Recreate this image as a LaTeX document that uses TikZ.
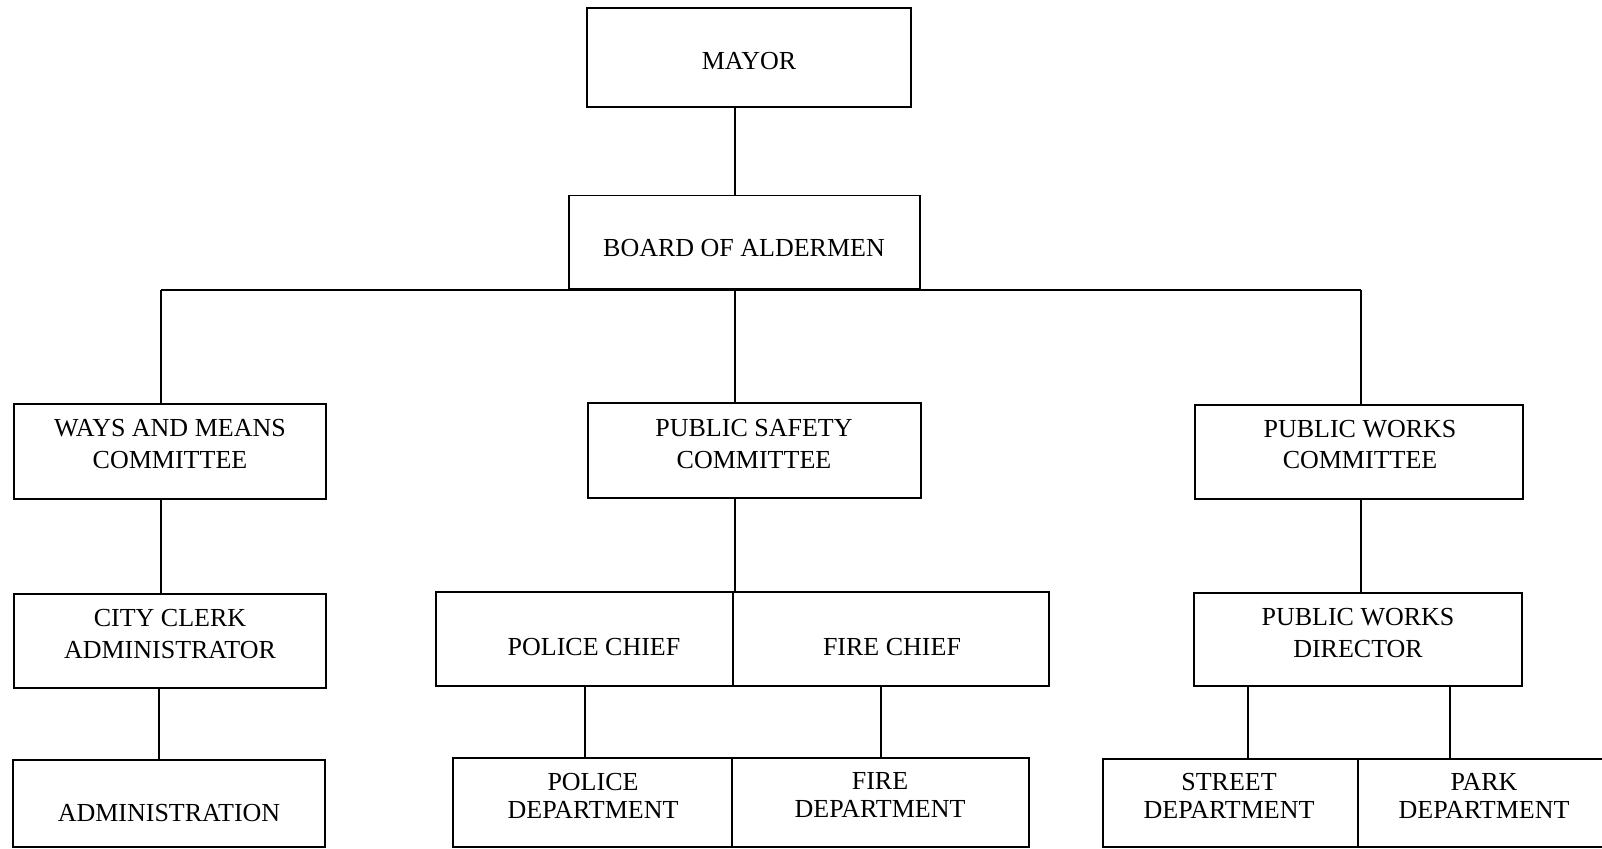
\documentclass[tikz,border=0pt]{standalone}
\usepackage{fontspec}
\setmainfont{Liberation Serif}
\begin{document}
\begin{tikzpicture}[x=1pt,y=-1pt,
  box/.style={draw=black,line width=1.9pt,rectangle,inner sep=0pt},
  nobox/.style={rectangle,inner sep=0pt},
  lbl/.style={inner sep=0pt,align=center,font=\fontsize{26}{31.5}\selectfont},
  lblb/.style={inner sep=0pt,align=center,font=\fontsize{26}{28}\selectfont},
  conn/.style={draw=black,line width=1.3pt}]
\useasboundingbox[fill=white] (0,0) rectangle (1602,848);
% boxes
\node[box,minimum width=324pt,minimum height=99pt] (mayor) at (749,57.5) {};
\node[box,minimum width=351pt,minimum height=93pt] (board) at (744.5,242) {};
\node[box,minimum width=312pt,minimum height=95pt] (ways) at (170,451.5) {};
\node[box,minimum width=333pt,minimum height=95pt] (safety) at (754.5,450.5) {};
\node[box,minimum width=328pt,minimum height=94pt] (pwc) at (1359,452) {};
\node[box,minimum width=312pt,minimum height=94pt] (clerk) at (170,641) {};
\node[box,minimum width=297pt,minimum height=94pt] (pchief) at (584.5,639) {};
\node[box,minimum width=316pt,minimum height=94pt] (fchief) at (891,639) {};
\node[box,minimum width=328pt,minimum height=93pt] (pwd) at (1358,639.5) {};
\node[box,minimum width=312pt,minimum height=87pt] (admin) at (169,803.5) {};
\node[box,minimum width=279pt,minimum height=89pt] (pdept) at (592.5,802.5) {};
\node[box,minimum width=297pt,minimum height=89pt] (fdept) at (880.5,802.5) {};
\node[box,minimum width=255pt,minimum height=88pt] (sdept) at (1230.5,803) {};
\node[nobox,minimum width=244pt,minimum height=88pt] (park) at (1480,803) {};
\draw[line width=1.9pt] (park.north east) -- (park.north west) -- (park.south west) -- (park.south east);
% texts
\node[lbl] (mayorT) at (749,61) {MAYOR};
\node[lbl] (boardT) at (744,248.5) {BOARD OF ALDERMEN};
\node[lbl] (waysT) at (170,444) {WAYS AND MEANS\\COMMITTEE};
\node[lbl] (safetyT) at (754,444) {PUBLIC SAFETY\\COMMITTEE};
\node[lbl] (pwcT) at (1360,444.5) {PUBLIC WORKS\\COMMITTEE};
\node[lbl] (clerkT) at (170,634) {CITY CLERK\\ADMINISTRATOR};
\node[lbl] (pchiefT) at (594,647) {POLICE CHIEF};
\node[lbl] (fchiefT) at (892,647) {FIRE CHIEF};
\node[lbl] (pwdT) at (1358,633) {PUBLIC WORKS\\DIRECTOR};
\node[lbl] (adminT) at (169,813.5) {ADMINISTRATION};
\node[lblb] (pdeptT) at (593,795.5) {POLICE\\DEPARTMENT};
\node[lblb] (fdeptT) at (880,795.5) {FIRE\\DEPARTMENT};
\node[lblb] (sdeptT) at (1229,796) {STREET\\DEPARTMENT};
\node[lblb] (parkT) at (1484,796) {PARK\\DEPARTMENT};
% connector positions
\coordinate (xL) at (161,290);
\coordinate (xC) at (735,290);
\coordinate (xR) at (1361,290);
\coordinate (xA) at (159,0);
\coordinate (xPC) at (585,0);
\coordinate (xF) at (881,0);
\coordinate (xS) at (1248,0);
\coordinate (xP) at (1450,0);
% connectors
\draw[conn] (mayor.south -| xC) -- (board.north -| xC);
\draw[conn] (xL) -- (xR);
\draw[conn] (board.south -| xC) -- (safety.north -| xC);
\draw[conn] (xL) -- (ways.north -| xL);
\draw[conn] (xR) -- (pwc.north -| xR);
\draw[conn] (ways.south -| xL) -- (clerk.north -| xL);
\draw[conn] (clerk.south -| xA) -- (admin.north -| xA);
\draw[conn] (safety.south -| xC) -- (pchief.north -| xC);
\draw[conn] (pchief.south -| xPC) -- (pdept.north -| xPC);
\draw[conn] (fchief.south -| xF) -- (fdept.north -| xF);
\draw[conn] (pwc.south -| xR) -- (pwd.north -| xR);
\draw[conn] (pwd.south -| xS) -- (sdept.north -| xS);
\draw[conn] (pwd.south -| xP) -- (park.north -| xP);
\end{tikzpicture}
\end{document}
